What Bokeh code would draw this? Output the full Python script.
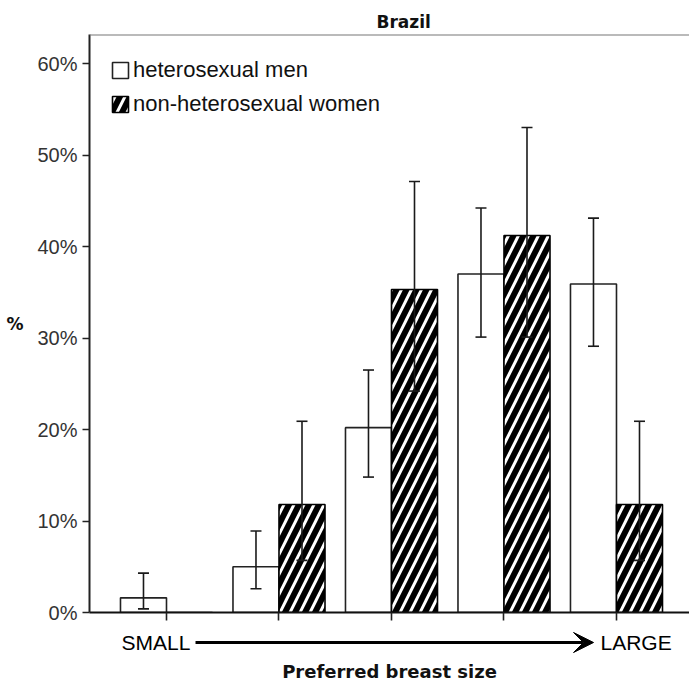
from bokeh.plotting import figure
from bokeh.layouts import column
from bokeh.models import (ColumnDataSource, FixedTicker, Whisker, TeeHead, Label,
                          Arrow, VeeHead, Span, Legend, LegendItem, Range1d)
from bokeh.embed import file_html
from bokeh.resources import INLINE

# ---------------- data ----------------
title_text = "Brazil"
categories = [1, 2, 3, 4, 5]          # preferred breast size, small -> large
series_names = ["heterosexual men", "non-heterosexual women"]
men_pct = [1.6, 5.0, 20.2, 37.0, 35.9]
men_lower = [0.4, 2.6, 14.8, 30.1, 29.1]
men_upper = [4.3, 8.9, 26.5, 44.2, 43.1]
women_pct = [0.0, 11.8, 35.3, 41.2, 11.8]
women_lower = [None, 5.7, 24.2, 30.1, 5.7]
women_upper = [None, 20.9, 47.1, 53.0, 20.9]
y_ticks = [0, 10, 20, 30, 40, 50, 60]
y_tick_labels = ["0%", "10%", "20%", "30%", "40%", "50%", "60%"]
x_end_labels = ["SMALL", "LARGE"]
x_title = "Preferred breast size"
y_title = "%"

# ---------------- layout constants ----------------
BAR_W = 0.409
DODGE = BAR_W / 2
SANS = "Liberation Sans"
BOLD = "DejaVu Sans"
Y_TOP = 63.17

xr = Range1d(0.3156, 5.649)

p = figure(width=689, height=624, output_backend="svg", toolbar_location=None,
           x_range=xr, y_range=Range1d(0, Y_TOP),
           min_border_left=89, min_border_right=0, min_border_top=34,
           min_border_bottom=12)
p.outline_line_color = None
p.xgrid.visible = False
p.ygrid.visible = False
p.background_fill_color = "white"
p.border_fill_color = "white"

# title
p.title.text = title_text
p.title.align = "left"
p.title.offset = 287
p.title.text_font = BOLD
p.title.text_font_style = "bold"
p.title.text_font_size = "17px"
p.title.text_color = "#111111"
p.title.standoff = 6

# top frame line
p.add_layout(Span(location=Y_TOP, dimension="width", line_color="#777777", line_width=2))

# bars
men_src = ColumnDataSource(dict(x=[c - DODGE for c in categories], top=men_pct))
women_src = ColumnDataSource(dict(x=[c + DODGE for c in categories], top=women_pct))

r_men = p.vbar(x="x", top="top", width=BAR_W, source=men_src,
               fill_color="white", line_color="#222222", line_width=1.6)
r_women = p.vbar(x="x", top="top", width=BAR_W, source=women_src,
                 fill_color="black", line_color="black", line_width=1.6,
                 hatch_pattern="/", hatch_color="white", hatch_scale=20, hatch_weight=3)

# error bars
men_err = ColumnDataSource(dict(x=[c - DODGE for c in categories],
                                lower=men_lower, upper=men_upper))
wx, wl, wu = [], [], []
for c, lo, hi in zip(categories, women_lower, women_upper):
    if lo is not None and hi is not None:
        wx.append(c + DODGE); wl.append(lo); wu.append(hi)
women_err = ColumnDataSource(dict(x=wx, lower=wl, upper=wu))

for src in (men_err, women_err):
    w = Whisker(base="x", lower="lower", upper="upper", source=src,
                line_color="#1a1a1a", line_width=1.6, level="annotation",
                upper_head=TeeHead(size=11, line_color="#1a1a1a", line_width=1.6),
                lower_head=TeeHead(size=11, line_color="#1a1a1a", line_width=1.6))
    p.add_layout(w)

# legend (bottom-left corner position, screen px from frame bottom-left)
legend = Legend(items=[LegendItem(label=series_names[0], renderers=[r_men]),
                       LegendItem(label=series_names[1], renderers=[r_women])],
                location=(21, 495))
legend.margin = 0
legend.padding = 0
legend.spacing = 8
legend.glyph_width = 20
legend.glyph_height = 20
legend.label_height = 20
legend.label_standoff = 3
legend.label_text_font = SANS
legend.label_text_font_size = "22px"
legend.label_text_color = "#111111"
legend.border_line_color = None
legend.background_fill_alpha = 0
p.add_layout(legend, "center")

# y axis
ya = p.yaxis[0]
ya.ticker = FixedTicker(ticks=y_ticks)
ya.major_label_overrides = {t: l for t, l in zip(y_ticks, y_tick_labels)}
ya.minor_tick_line_color = None
ya.major_tick_out = 7
ya.major_tick_in = 0
ya.major_tick_line_width = 1.6
ya.major_tick_line_color = "#222222"
ya.axis_line_color = "#222222"
ya.axis_line_width = 2
ya.major_label_standoff = 5
ya.major_label_text_font = SANS
ya.major_label_text_font_size = "20px"
ya.major_label_text_color = "#333333"
ya.axis_label = y_title
ya.axis_label_orientation = "horizontal"
ya.axis_label_text_font = BOLD
ya.axis_label_text_font_style = "bold"
ya.axis_label_text_font_size = "17px"
ya.axis_label_text_color = "#111111"
ya.axis_label_standoff = 11

# x axis (tick marks only)
xa = p.xaxis[0]
xa.ticker = FixedTicker(ticks=categories)
xa.major_label_overrides = {c: "" for c in categories}
xa.minor_tick_line_color = None
xa.major_tick_out = 8
xa.major_tick_in = 0
xa.major_tick_line_width = 1.6
xa.major_tick_line_color = "#222222"
xa.axis_line_color = "#111111"
xa.axis_line_width = 2
xa.major_label_standoff = 0

# ---------------- strip below: SMALL ---> LARGE and axis title ----------------
p2 = figure(width=689, height=60, output_backend="svg", toolbar_location=None,
            x_range=xr, y_range=Range1d(0, 1), y_axis_location=None,
            min_border_left=89, min_border_right=0, min_border_top=0,
            min_border_bottom=0)
p2.outline_line_color = None
p2.xgrid.visible = False
p2.ygrid.visible = False
p2.background_fill_color = "white"
p2.border_fill_color = "white"

xa2 = p2.xaxis[0]
xa2.ticker = FixedTicker(ticks=[])
xa2.axis_line_color = None
xa2.major_tick_line_color = None
xa2.minor_tick_line_color = None
xa2.major_tick_out = 0
xa2.major_label_standoff = 0
xa2.axis_label = x_title
xa2.axis_label_text_font = BOLD
xa2.axis_label_text_font_style = "bold"
xa2.axis_label_text_font_size = "18px"
xa2.axis_label_text_color = "#111111"
xa2.axis_label_standoff = 0

arrow_y = 0.5
p2.add_layout(Label(x=1.213, y=arrow_y, text=x_end_labels[0], text_align="right",
                    text_baseline="middle", text_font=SANS, text_font_size="21px",
                    text_color="black"))
p2.add_layout(Label(x=4.858, y=arrow_y, text=x_end_labels[1], text_align="left",
                    text_baseline="middle", text_font=SANS, text_font_size="21px",
                    text_color="black"))
p2.add_layout(Arrow(x_start=1.258, y_start=arrow_y, x_end=4.796, y_end=arrow_y,
                    line_width=3, line_color="black",
                    end=VeeHead(size=20, fill_color="black", line_color="black")))

layout = column(p, p2, spacing=0)
open("out.html", "w").write(file_html(layout, INLINE))
